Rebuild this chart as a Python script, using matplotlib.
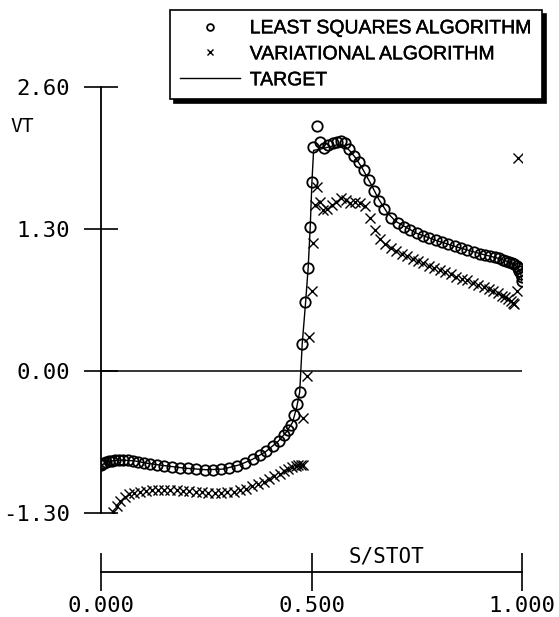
import matplotlib.pyplot as plt
import matplotlib.patheffects as pe

# least squares algorithm (circles)
x_ls = [0.000, 0.003, 0.007, 0.012, 0.018, 0.025, 0.033, 0.042, 0.052, 0.063,
        0.075, 0.088, 0.102, 0.117, 0.133, 0.150, 0.168, 0.187, 0.206, 0.226,
        0.246, 0.266, 0.286, 0.305, 0.324, 0.342, 0.360, 0.377, 0.393, 0.408,
        0.422, 0.434, 0.444, 0.452, 0.459, 0.466, 0.472, 0.477, 0.485, 0.492,
        0.497, 0.500, 0.504, 0.514, 0.521, 0.530, 0.540, 0.550, 0.560, 0.570,
        0.580, 0.590, 0.601, 0.613, 0.625, 0.637, 0.649, 0.661, 0.673, 0.690,
        0.705, 0.720, 0.735, 0.750, 0.765, 0.780, 0.795, 0.810, 0.825, 0.840,
        0.855, 0.870, 0.885, 0.900, 0.913, 0.925, 0.936, 0.946, 0.955, 0.963,
        0.970, 0.976, 0.982, 0.987, 0.991, 0.994, 0.997, 0.999, 1.000]
y_ls = [-0.865, -0.855, -0.845, -0.835, -0.827, -0.821, -0.817, -0.815, -0.815, -0.818,
        -0.823, -0.830, -0.840, -0.849, -0.857, -0.866, -0.875, -0.884, -0.892, -0.899,
        -0.904, -0.905, -0.899, -0.886, -0.866, -0.840, -0.808, -0.772, -0.735, -0.690,
        -0.640, -0.590, -0.540, -0.490, -0.400, -0.300, -0.190, 0.25, 0.63, 0.94,
        1.32, 1.73, 2.05, 2.24, 2.10, 2.04, 2.07, 2.09, 2.10, 2.11,
        2.09, 2.03, 1.97, 1.91, 1.84, 1.75, 1.65, 1.56, 1.48, 1.40,
        1.355, 1.32, 1.29, 1.26, 1.235, 1.215, 1.195, 1.18, 1.165, 1.145,
        1.125, 1.105, 1.09, 1.075, 1.06, 1.05, 1.04, 1.03, 1.02, 1.01,
        1.00, 0.99, 0.98, 0.965, 0.945, 0.92, 0.89, 0.86, 0.82]

# variational algorithm (crosses)
x_var = [0.028, 0.037, 0.046, 0.056, 0.067, 0.079, 0.092, 0.106, 0.120, 0.135,
         0.150, 0.165, 0.180, 0.195, 0.210, 0.225, 0.240, 0.255, 0.270, 0.285,
         0.300, 0.315, 0.330, 0.344, 0.358, 0.372, 0.386, 0.399, 0.412, 0.424,
         0.435, 0.445, 0.454, 0.462, 0.469, 0.475, 0.480, 0.480, 0.489, 0.495,
         0.500, 0.504, 0.508, 0.512, 0.520, 0.528, 0.538, 0.548, 0.559, 0.570,
         0.581, 0.592, 0.603, 0.615, 0.627, 0.639, 0.651, 0.663, 0.675, 0.688,
         0.701, 0.714, 0.727, 0.740, 0.753, 0.766, 0.779, 0.792, 0.805, 0.818,
         0.831, 0.844, 0.857, 0.870, 0.883, 0.896, 0.909, 0.921, 0.932, 0.943,
         0.952, 0.960, 0.967, 0.973, 0.978, 0.982, 0.987, 0.991]
y_var = [-1.29, -1.24, -1.19, -1.155, -1.13, -1.115, -1.105, -1.098, -1.093, -1.091,
         -1.090, -1.091, -1.094, -1.098, -1.103, -1.108, -1.112, -1.115, -1.117, -1.116,
         -1.112, -1.104, -1.092, -1.076, -1.057, -1.036, -1.013, -0.99, -0.965, -0.94,
         -0.915, -0.895, -0.88, -0.87, -0.862, -0.857, -0.86, -0.43, -0.05, 0.31,
         0.73, 1.17, 1.52, 1.68, 1.55, 1.47, 1.48, 1.52, 1.55, 1.58,
         1.57, 1.54, 1.55, 1.535, 1.51, 1.40, 1.29, 1.21, 1.16, 1.13,
         1.10, 1.075, 1.05, 1.025, 1.005, 0.985, 0.965, 0.945, 0.925, 0.905,
         0.885, 0.865, 0.845, 0.83, 0.81, 0.79, 0.77, 0.75, 0.73, 0.71,
         0.69, 0.675, 0.655, 0.64, 0.625, 0.615, 0.73, 1.95]

# target distribution
x_tgt = [0.000, 0.010, 0.030, 0.050, 0.080, 0.110, 0.150, 0.200, 0.250, 0.290,
         0.330, 0.360, 0.390, 0.420, 0.440, 0.455, 0.465, 0.472, 0.478, 0.486,
         0.492, 0.497, 0.501, 0.505, 0.520, 0.540, 0.560, 0.575, 0.590, 0.605,
         0.620, 0.640, 0.660, 0.680, 0.700, 0.750, 0.800, 0.850, 0.900, 0.950,
         0.980, 0.990, 0.997, 1.000]
y_tgt = [-0.87, -0.84, -0.82, -0.815, -0.823, -0.845, -0.866, -0.89, -0.904, -0.898,
         -0.858, -0.808, -0.742, -0.647, -0.56, -0.47, -0.33, -0.19, 0.25, 0.63,
         0.94, 1.32, 1.73, 2.02, 2.03, 2.05, 2.07, 2.07, 2.02, 1.95,
         1.86, 1.72, 1.57, 1.45, 1.37, 1.26, 1.19, 1.13, 1.075, 1.025,
         0.98, 0.945, 0.89, 0.82]

y_ticks = [-1.3, 0.0, 1.3, 2.6]
y_ticklabels = ['-1.30', '0.00', '1.30', '2.60']
x_ticks = [0.0, 0.5, 1.0]
x_ticklabels = ['0.000', '0.500', '1.000']

W, H = 559, 617
MONO = 'DejaVu Sans Mono'

fig = plt.figure(figsize=(W / 100, H / 100), dpi=100, facecolor='white')

# main plot area
ax = fig.add_axes([101 / W, (H - 513) / H, 421 / W, 426 / H])
ax.set_xlim(0, 1)
ax.set_ylim(-1.3, 2.6)
for s in ['top', 'right', 'bottom']:
    ax.spines[s].set_visible(False)
ax.spines['left'].set_linewidth(1.3)
ax.set_xticks([])
ax.set_yticks(y_ticks)
ax.set_yticklabels(y_ticklabels, fontfamily=MONO)
ax.tick_params(axis='y', direction='inout', length=25, width=1.2,
               pad=10, labelsize=16)
ax.axhline(0, color='black', lw=1.1)

ax.plot(x_tgt, y_tgt, color='black', lw=1.0, label='TARGET', zorder=2)
ax.plot(x_ls, y_ls, ls='none', marker='o', ms=7.5, mfc='none', mec='black',
        mew=1.3, label='LEAST SQUARES ALGORITHM', zorder=3)
ax.plot(x_var, y_var, ls='none', marker='x', ms=7.5, mec='black',
        mew=1.0, label='VARIATIONAL ALGORITHM', zorder=3)

fig.text(10 / W, 1 - 127 / H, 'VT', fontsize=14, fontfamily=MONO,
         ha='left', va='center')

# legend with drop shadow
h, l = ax.get_legend_handles_labels()
order = [1, 2, 0]
leg = ax.legend([h[i] for i in order], [l[i] for i in order],
                loc='upper left', bbox_to_anchor=(170 / W, 1 - 10 / H),
                bbox_transform=fig.transFigure, borderaxespad=0,
                frameon=True, fancybox=False,
                shadow={'ox': 3, 'oy': -3, 'facecolor': 'black', 'edgecolor': 'black', 'alpha': 1},
                prop={'family': 'Liberation Sans', 'size': 14},
                handlelength=3.1, handletextpad=0.5, borderpad=0.5,
                labelspacing=0.43, markerscale=0.65)
leg.get_frame().set_edgecolor('black')
leg.get_frame().set_linewidth(1.2)
leg.get_frame().set_alpha(1)
for t in leg.get_texts():
    t.set_path_effects([pe.withStroke(linewidth=0.3, foreground='black')])

# separate horizontal axis below
ax2 = fig.add_axes([101 / W, (H - 572) / H, 421 / W, 0.0001])
ax2.set_xlim(0, 1)
for s in ['top', 'right', 'left']:
    ax2.spines[s].set_visible(False)
ax2.spines['bottom'].set_linewidth(1.3)
ax2.set_yticks([])
ax2.set_xticks(x_ticks)
ax2.set_xticklabels(x_ticklabels, fontfamily=MONO)
ax2.tick_params(axis='x', direction='inout', length=27, width=1.2,
                pad=4, labelsize=16)
ax2.patch.set_visible(False)
fig.text(387 / W, 1 - 556 / H, 'S/STOT', fontsize=15, fontfamily=MONO,
         ha='center', va='center')

fig.savefig('out.png', dpi=100, facecolor='white')
